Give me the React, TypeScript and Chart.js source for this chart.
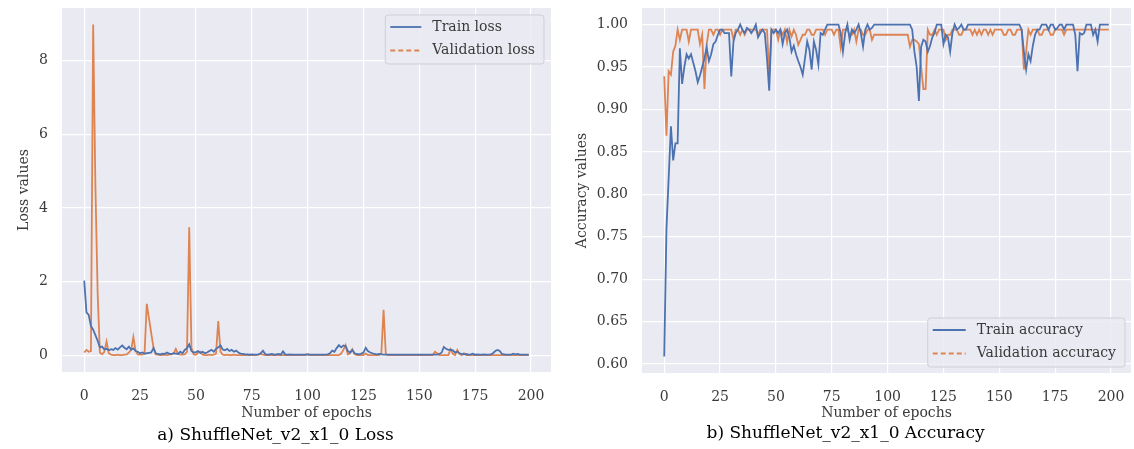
import React, { useEffect, useRef } from "react";
import { Chart, registerables } from "chart.js";

Chart.register(...registerables);

// ---------- data ----------
const epochs: number[] = Array.from({ length: 200 }, (_, i) => i);
const xTicks = [0, 25, 50, 75, 100, 125, 150, 175, 200];
const lossTicks = [0, 2, 4, 6, 8];
const accTicks = [0.6, 0.65, 0.7, 0.75, 0.8, 0.85, 0.9, 0.95, 1.0];

const trainLoss = [
  2.03, 1.17, 1.10, 0.80, 0.70, 0.55, 0.40, 0.22, 0.24, 0.16,
  0.18, 0.14, 0.17, 0.15, 0.20, 0.16, 0.22, 0.27, 0.21, 0.17,
  0.24, 0.16, 0.19, 0.12, 0.10, 0.06, 0.08, 0.05, 0.06, 0.07,
  0.08, 0.20, 0.06, 0.04, 0.03, 0.05, 0.04, 0.08, 0.05, 0.04,
  0.06, 0.05, 0.04, 0.10, 0.06, 0.15, 0.20, 0.30, 0.12, 0.08,
  0.09, 0.12, 0.07, 0.10, 0.06, 0.08, 0.12, 0.15, 0.10, 0.18,
  0.22, 0.27, 0.16, 0.14, 0.18, 0.12, 0.15, 0.10, 0.13, 0.08,
  0.05, 0.04, 0.03, 0.03, 0.02, 0.03, 0.02, 0.02, 0.03, 0.06,
  0.13, 0.04, 0.02, 0.03, 0.04, 0.02, 0.03, 0.04, 0.02, 0.11,
  0.03, 0.02, 0.03, 0.02, 0.02, 0.02, 0.02, 0.02, 0.02, 0.02,
  0.02, 0.02, 0.02, 0.02, 0.02, 0.02, 0.02, 0.02, 0.02, 0.03,
  0.06, 0.13, 0.10, 0.20, 0.28, 0.22, 0.27, 0.25, 0.12, 0.08,
  0.15, 0.06, 0.04, 0.03, 0.05, 0.08, 0.21, 0.12, 0.08, 0.06,
  0.04, 0.03, 0.04, 0.03, 0.02, 0.02, 0.02, 0.02, 0.02, 0.02,
  0.02, 0.02, 0.02, 0.02, 0.02, 0.02, 0.02, 0.02, 0.02, 0.02,
  0.02, 0.02, 0.02, 0.02, 0.02, 0.02, 0.02, 0.02, 0.02, 0.04,
  0.08, 0.23, 0.18, 0.15, 0.16, 0.14, 0.08, 0.10, 0.06, 0.04,
  0.03, 0.04, 0.02, 0.03, 0.05, 0.02, 0.03, 0.02, 0.02, 0.03,
  0.02, 0.02, 0.03, 0.06, 0.12, 0.15, 0.12, 0.04, 0.03, 0.02,
  0.02, 0.02, 0.05, 0.03, 0.04, 0.02, 0.02, 0.02, 0.02, 0.02,
];

const valLoss = [
  0.08, 0.15, 0.10, 0.12, 8.98, 4.60, 1.70, 0.08, 0.03, 0.10,
  0.38, 0.06, 0.02, 0.01, 0.01, 0.02, 0.01, 0.01, 0.02, 0.03,
  0.08, 0.15, 0.50, 0.12, 0.03, 0.02, 0.02, 0.05, 1.40, 1.00,
  0.60, 0.22, 0.03, 0.02, 0.01, 0.01, 0.02, 0.01, 0.02, 0.03,
  0.05, 0.18, 0.04, 0.02, 0.02, 0.03, 0.10, 3.48, 0.20, 0.03,
  0.02, 0.08, 0.10, 0.02, 0.01, 0.01, 0.02, 0.01, 0.02, 0.05,
  0.93, 0.10, 0.02, 0.01, 0.02, 0.01, 0.01, 0.02, 0.01, 0.01,
  0.01, 0.01, 0.01, 0.01, 0.01, 0.01, 0.01, 0.01, 0.02, 0.04,
  0.02, 0.01, 0.01, 0.01, 0.01, 0.01, 0.01, 0.01, 0.01, 0.01,
  0.01, 0.01, 0.01, 0.01, 0.01, 0.01, 0.01, 0.01, 0.01, 0.01,
  0.04, 0.01, 0.01, 0.01, 0.01, 0.01, 0.01, 0.01, 0.01, 0.01,
  0.01, 0.01, 0.01, 0.01, 0.01, 0.05, 0.15, 0.28, 0.03, 0.06,
  0.17, 0.04, 0.01, 0.01, 0.01, 0.01, 0.05, 0.01, 0.01, 0.01,
  0.01, 0.01, 0.01, 0.05, 1.24, 0.03, 0.01, 0.01, 0.01, 0.01,
  0.01, 0.01, 0.01, 0.01, 0.01, 0.01, 0.01, 0.01, 0.01, 0.01,
  0.01, 0.01, 0.01, 0.01, 0.01, 0.01, 0.01, 0.10, 0.06, 0.01,
  0.01, 0.01, 0.01, 0.01, 0.17, 0.05, 0.01, 0.15, 0.04, 0.01,
  0.06, 0.01, 0.01, 0.01, 0.01, 0.01, 0.01, 0.01, 0.01, 0.01,
  0.01, 0.01, 0.01, 0.01, 0.01, 0.01, 0.01, 0.01, 0.01, 0.01,
  0.01, 0.01, 0.01, 0.01, 0.01, 0.01, 0.01, 0.01, 0.01, 0.01,
];

const trainAcc = [
  0.609, 0.76, 0.82, 0.88, 0.84, 0.86, 0.86, 0.972, 0.93, 0.95,
  0.965, 0.96, 0.965, 0.955, 0.945, 0.932, 0.94, 0.95, 0.96, 0.973,
  0.957, 0.965, 0.977, 0.98, 0.988, 0.994, 0.994, 0.99, 0.99, 0.99,
  0.939, 0.98, 0.99, 0.994, 1.0, 0.994, 0.99, 0.996, 0.994, 0.99,
  0.994, 1.0, 0.985, 0.99, 0.994, 0.99, 0.96, 0.922, 0.994, 0.99,
  0.994, 0.99, 0.994, 0.977, 0.99, 0.994, 0.985, 0.968, 0.975, 0.965,
  0.957, 0.95, 0.941, 0.96, 0.98, 0.97, 0.947, 0.98, 0.97, 0.953,
  0.99, 0.988, 0.994, 1.0, 1.0, 1.0, 1.0, 1.0, 1.0, 0.99,
  0.968, 0.99, 1.0, 0.982, 0.994, 0.99, 0.994, 1.0, 0.99, 0.974,
  0.994, 1.0, 0.994, 0.996, 1.0, 1.0, 1.0, 1.0, 1.0, 1.0,
  1.0, 1.0, 1.0, 1.0, 1.0, 1.0, 1.0, 1.0, 1.0, 1.0,
  1.0, 0.994, 0.968, 0.95, 0.91, 0.974, 0.982, 0.98, 0.968, 0.975,
  0.985, 0.99, 1.0, 1.0, 1.0, 0.977, 0.988, 0.985, 0.968, 0.99,
  1.0, 0.994, 0.996, 1.0, 0.994, 0.994, 1.0, 1.0, 1.0, 1.0,
  1.0, 1.0, 1.0, 1.0, 1.0, 1.0, 1.0, 1.0, 1.0, 1.0,
  1.0, 1.0, 1.0, 1.0, 1.0, 1.0, 1.0, 1.0, 1.0, 1.0,
  0.994, 0.968, 0.947, 0.965, 0.957, 0.975, 0.988, 0.994, 0.994, 1.0,
  1.0, 1.0, 0.994, 1.0, 1.0, 0.994, 0.996, 1.0, 1.0, 0.994,
  1.0, 1.0, 1.0, 1.0, 0.988, 0.945, 0.99, 0.988, 0.99, 1.0,
  1.0, 1.0, 0.988, 0.994, 0.98, 1.0, 1.0, 1.0, 1.0, 1.0,
];

const valAcc = [
  0.939, 0.869, 0.945, 0.941, 0.968, 0.975, 0.994, 0.982, 0.994, 0.994,
  0.994, 0.98, 0.994, 0.994, 0.994, 0.994, 0.977, 0.988, 0.924, 0.977,
  0.994, 0.994, 0.988, 0.994, 0.994, 0.988, 0.994, 0.994, 0.994, 0.994,
  0.994, 0.982, 0.994, 0.994, 0.988, 0.994, 0.988, 0.994, 0.994, 0.994,
  0.994, 0.994, 0.988, 0.994, 0.994, 0.994, 0.994, 0.941, 0.994, 0.994,
  0.994, 0.982, 0.994, 0.988, 0.994, 0.979, 0.994, 0.986, 0.994, 0.988,
  0.976, 0.982, 0.988, 0.988, 0.994, 0.994, 0.988, 0.988, 0.994, 0.994,
  0.994, 0.994, 0.988, 0.994, 0.994, 0.994, 0.988, 0.994, 0.994, 0.973,
  0.994, 0.994, 0.994, 0.988, 0.988, 0.994, 0.98, 0.994, 0.994, 0.988,
  0.988, 0.994, 0.994, 0.982, 0.988, 0.988, 0.988, 0.988, 0.988, 0.988,
  0.988, 0.988, 0.988, 0.988, 0.988, 0.988, 0.988, 0.988, 0.988, 0.988,
  0.974, 0.982, 0.982, 0.98, 0.977, 0.95, 0.924, 0.924, 0.994, 0.988,
  0.988, 0.994, 0.988, 0.994, 0.994, 0.994, 0.982, 0.988, 0.988, 0.994,
  0.994, 0.994, 0.988, 0.988, 0.994, 0.994, 0.994, 0.994, 0.988, 0.994,
  0.988, 0.994, 0.988, 0.994, 0.994, 0.988, 0.994, 0.988, 0.994, 0.994,
  0.994, 0.994, 0.988, 0.988, 0.994, 0.994, 0.988, 0.988, 0.994, 0.994,
  0.994, 0.947, 0.968, 0.994, 0.988, 0.994, 0.994, 0.994, 0.988, 0.988,
  0.994, 0.994, 0.994, 0.988, 0.988, 0.994, 0.994, 0.994, 0.994, 0.988,
  0.994, 0.994, 0.994, 0.994, 0.994, 0.994, 0.994, 0.994, 0.994, 0.994,
  0.994, 0.994, 0.994, 0.994, 0.994, 0.994, 0.994, 0.994, 0.994, 0.994,
];

// ---------- styles ----------
const BLUE = "#4C72B0";
const ORANGE = "#DD8452";
const FAMILY = '"DejaVu Serif", "Liberation Serif", serif';
const TEXT = "#3a3a3a";
const PANEL_BG = "#EAEAF2";

const panelBg = {
  id: "panelBg",
  beforeDraw(chart: any) {
    const { ctx, chartArea } = chart;
    if (!chartArea) return;
    ctx.save();
    ctx.fillStyle = PANEL_BG;
    ctx.fillRect(chartArea.left, chartArea.top, chartArea.right - chartArea.left, chartArea.bottom - chartArea.top);
    ctx.restore();
  },
};

const insideLegend = {
  id: "insideLegend",
  afterDatasetsDraw(chart: any, _args: any, opts: any) {
    const { ctx, chartArea } = chart;
    if (!chartArea || !opts || !opts.display) return;
    const items = chart.data.datasets.map((ds: any, i: number) => ({
      text: ds.label,
      color: ds.borderColor,
      dash: (opts.dashes && opts.dashes[i]) || [],
    }));
    ctx.save();
    ctx.font = `14px ${FAMILY}`;
    const lineLen = opts.lineLen;
    const padX = 5;
    const gap = 11;
    const rowH = 23.5;
    const textW = Math.max(...items.map((it: any) => ctx.measureText(it.text).width));
    const w = padX + lineLen + gap + textW + 9;
    const h = items.length * rowH + 2;
    const x = chartArea.right - opts.inset - w;
    const y = opts.corner === "top" ? chartArea.top + opts.inset : chartArea.bottom - opts.inset - h;
    const r = 3;
    ctx.beginPath();
    ctx.moveTo(x + r, y);
    ctx.lineTo(x + w - r, y);
    ctx.arcTo(x + w, y, x + w, y + r, r);
    ctx.lineTo(x + w, y + h - r);
    ctx.arcTo(x + w, y + h, x + w - r, y + h, r);
    ctx.lineTo(x + r, y + h);
    ctx.arcTo(x, y + h, x, y + h - r, r);
    ctx.lineTo(x, y + r);
    ctx.arcTo(x, y, x + r, y, r);
    ctx.closePath();
    ctx.fillStyle = "rgba(234,234,242,0.85)";
    ctx.fill();
    ctx.strokeStyle = "#cfcfd8";
    ctx.lineWidth = 1;
    ctx.stroke();
    items.forEach((it: any, i: number) => {
      const cy = y + 12 + i * rowH;
      ctx.beginPath();
      ctx.setLineDash(it.dash);
      ctx.strokeStyle = it.color;
      ctx.lineWidth = 1.8;
      ctx.moveTo(x + padX, cy);
      ctx.lineTo(x + padX + lineLen, cy);
      ctx.stroke();
      ctx.setLineDash([]);
      ctx.fillStyle = TEXT;
      ctx.textBaseline = "middle";
      ctx.textAlign = "left";
      ctx.fillText(it.text, x + padX + lineLen + gap, cy);
    });
    ctx.restore();
  },
};

function series(values: number[]) {
  return epochs.map((e, i) => ({ x: e, y: values[i] }));
}

interface PanelSpec {
  caption: string;
  yTitle: string;
  labels: [string, string];
  values: [number[], number[]];
  yMin: number;
  yMax: number;
  yTicks: number[];
  yFmt: (v: number) => string;
  yAxisWidth: number;
  yTitlePad: number;
  padRight: number;
  chartBottom: number;
  captionPadBottom: number;
  legendCorner: "top" | "bottom";
  legendInset: number;
  legendLineLen: number;
}

function makeConfig(s: PanelSpec, height: number): any {
  const captionBlock = 17 * 1.2 + s.captionPadBottom;
  const xAxisHeight = height - s.chartBottom - captionBlock;
  const xTitlePad = height - captionBlock - 8.4 - 413;
  const tickFont = { family: FAMILY, size: 14 };
  return {
    type: "line",
    data: {
      datasets: [
        { label: s.labels[0], data: series(s.values[0]), borderColor: BLUE, backgroundColor: BLUE, borderWidth: 1.8, pointRadius: 0, tension: 0 },
        { label: s.labels[1], data: series(s.values[1]), borderColor: ORANGE, backgroundColor: ORANGE, borderWidth: 1.8, pointRadius: 0, tension: 0 },
      ],
    },
    options: {
      responsive: false,
      animation: false,
      devicePixelRatio: 1,
      layout: { padding: { left: 0, right: s.padRight, top: 8, bottom: 0 } },
      plugins: {
        legend: { display: false },
        tooltip: { enabled: false },
        title: {
          display: true,
          position: "bottom",
          text: s.caption,
          color: "#000",
          font: { family: FAMILY, size: 17, weight: "normal", lineHeight: 1.2 },
          padding: { top: 0, bottom: s.captionPadBottom },
        },
        insideLegend: {
          display: true,
          corner: s.legendCorner,
          inset: s.legendInset,
          lineLen: s.legendLineLen,
          dashes: [[], [5, 3]],
        },
      },
      scales: {
        x: {
          type: "linear",
          min: -9.95,
          max: 208.95,
          afterBuildTicks: (sc: any) => {
            sc.ticks = xTicks.map((v) => ({ value: v }));
          },
          afterFit: (sc: any) => {
            sc.height = xAxisHeight;
            sc.paddingLeft = 0;
            sc.paddingRight = 0;
          },
          grid: { color: "#ffffff", lineWidth: 1.2, drawTicks: false },
          border: { display: false },
          ticks: { padding: 16, color: TEXT, font: tickFont, maxRotation: 0, autoSkip: false, callback: (v: any) => String(v) },
          title: {
            display: true,
            text: "Number of epochs",
            color: TEXT,
            font: { family: FAMILY, size: 14, lineHeight: 1.2 },
            padding: { top: 0, bottom: xTitlePad },
          },
        },
        y: {
          type: "linear",
          min: s.yMin,
          max: s.yMax,
          afterBuildTicks: (sc: any) => {
            sc.ticks = s.yTicks.map((v) => ({ value: v }));
          },
          afterFit: (sc: any) => {
            sc.width = s.yAxisWidth;
            sc.paddingTop = 0;
            sc.paddingBottom = 0;
          },
          grid: { color: "#ffffff", lineWidth: 1.2, drawTicks: false },
          border: { display: false },
          ticks: { padding: 14, color: TEXT, font: tickFont, autoSkip: false, callback: (v: any) => s.yFmt(Number(v)) },
          title: {
            display: true,
            text: s.yTitle,
            color: TEXT,
            font: { family: FAMILY, size: 14, lineHeight: 1.2 },
            padding: { top: s.yTitlePad, bottom: 0 },
          },
        },
      },
    },
    plugins: [panelBg, insideLegend],
  };
}

const lossSpec: PanelSpec = {
  caption: "a) ShuffleNet_v2_x1_0 Loss",
  yTitle: "Loss values",
  labels: ["Train loss", "Validation loss"],
  values: [trainLoss, valLoss],
  yMin: -0.449,
  yMax: 9.429,
  yTicks: lossTicks,
  yFmt: (v) => String(v),
  yAxisWidth: 62,
  yTitlePad: 15.6,
  padRight: 9,
  chartBottom: 372,
  captionPadBottom: 3.5,
  legendCorner: "top",
  legendInset: 7,
  legendLineLen: 31,
};

const accSpec: PanelSpec = {
  caption: "b) ShuffleNet_v2_x1_0 Accuracy",
  yTitle: "Accuracy values",
  labels: ["Train accuracy", "Validation accuracy"],
  values: [trainAcc, valAcc],
  yMin: 0.5895,
  yMax: 1.0195,
  yTicks: accTicks,
  yFmt: (v) => v.toFixed(2),
  yAxisWidth: 82,
  yTitlePad: 13.6,
  padRight: 3,
  chartBottom: 373,
  captionPadBottom: 5,
  legendCorner: "bottom",
  legendInset: 6,
  legendLineLen: 33,
};

function Panel({ spec, left, width, height }: { spec: PanelSpec; left: number; width: number; height: number }) {
  const ref = useRef<HTMLCanvasElement | null>(null);
  useEffect(() => {
    if (!ref.current) return;
    const chart = new Chart(ref.current, makeConfig(spec, height));
    return () => chart.destroy();
  }, [spec, width, height]);
  return (
    <canvas
      ref={ref}
      width={width}
      height={height}
      style={{ position: "absolute", left, top: 0, width, height, display: "block" }}
    />
  );
}

export default function App() {
  return (
    <div style={{ position: "absolute", left: 0, top: 0, width: 1134, height: 449, background: "#fff", overflow: "hidden" }}>
      <Panel spec={lossSpec} left={0} width={560} height={449} />
      <Panel spec={accSpec} left={560} width={574} height={449} />
    </div>
  );
}
